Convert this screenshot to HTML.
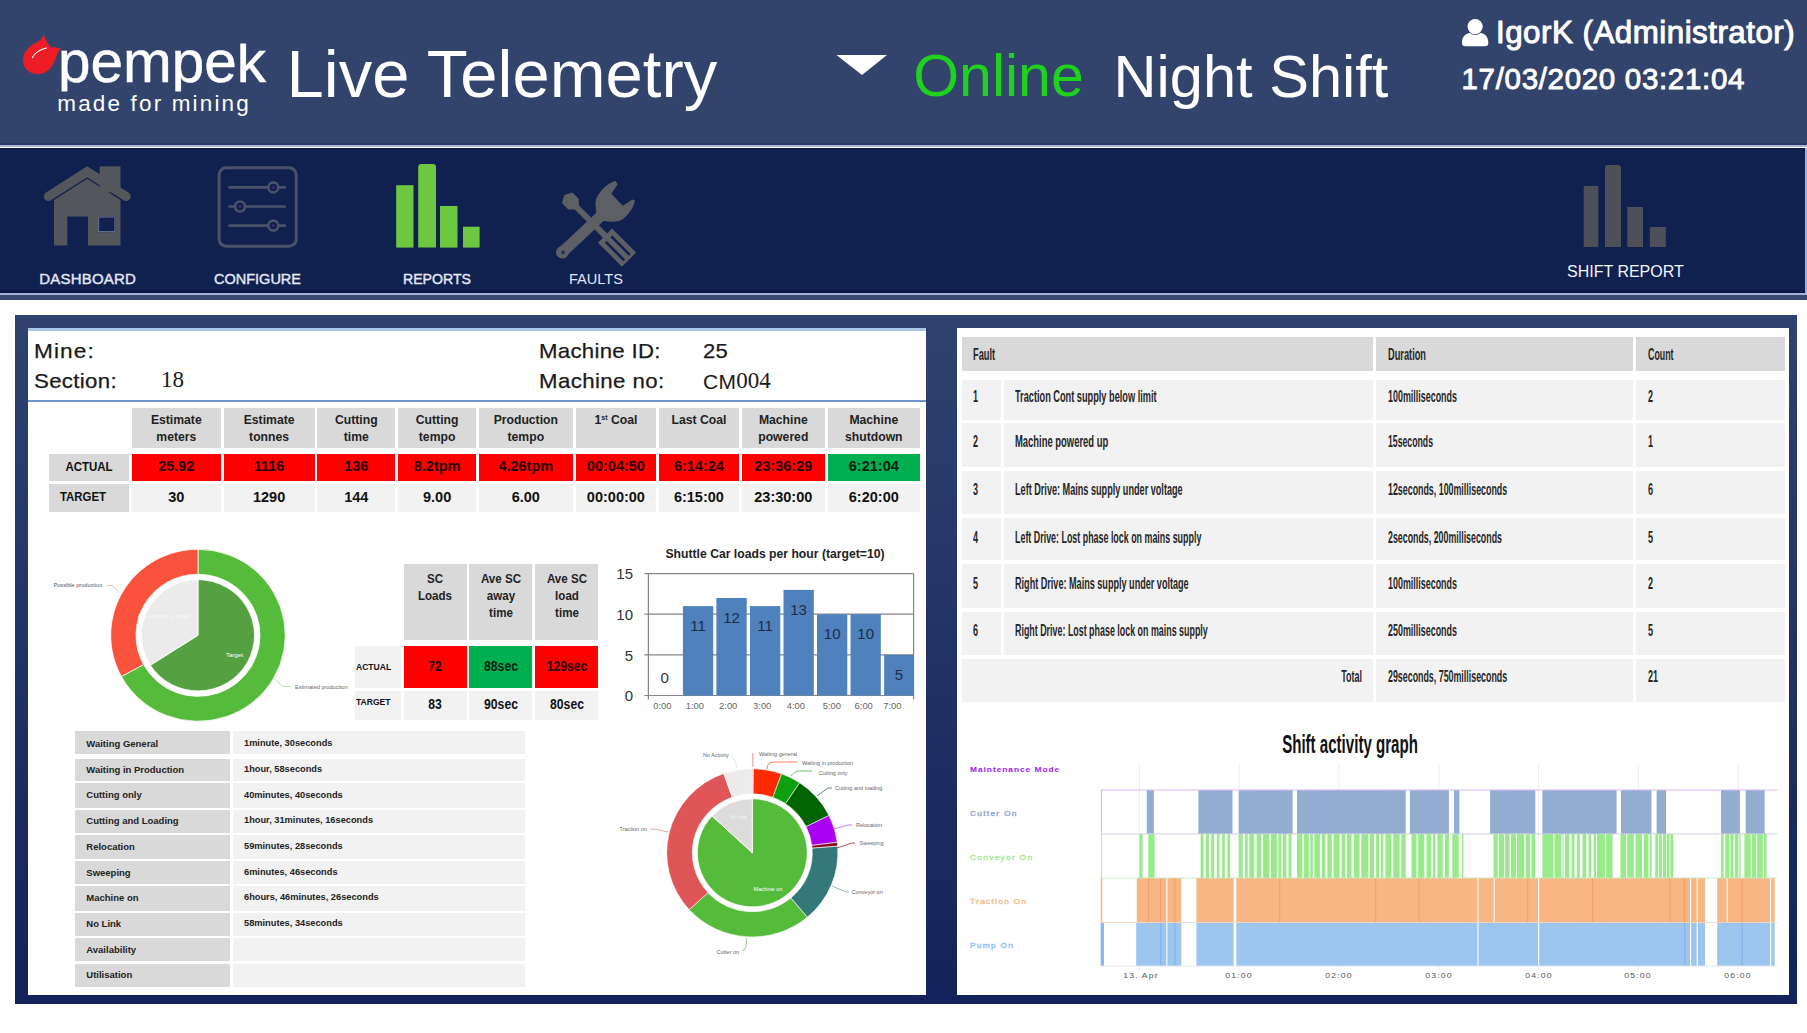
<!DOCTYPE html>
<html><head><meta charset="utf-8"><title>Live Telemetry</title>
<style>
html,body{margin:0;padding:0;}
body{width:1807px;height:1033px;position:relative;overflow:hidden;background:#fff;font-family:"Liberation Sans",sans-serif;}
.t{position:absolute;white-space:nowrap;line-height:1;}
svg{position:absolute;left:0;top:0;overflow:visible;}
</style></head><body>

<div style="position:absolute;left:0.0px;top:0.0px;width:1807.0px;height:145.0px;background:#32436c;"></div>
<div style="position:absolute;left:0.0px;top:143.0px;width:1807.0px;height:2.0px;background:#2c3b62;"></div>
<div style="position:absolute;left:0.0px;top:145.2px;width:1807.0px;height:2.0px;background:#a9b4d8;"></div>
<div style="position:absolute;left:0.0px;top:147.5px;width:1807.0px;height:145.5px;background:#10204f;"></div>
<div style="position:absolute;left:0.0px;top:147.5px;width:1807.0px;height:2.5px;background:linear-gradient(#0a1442,#10204f);"></div>
<div style="position:absolute;left:0.0px;top:290.0px;width:1807.0px;height:3.0px;background:linear-gradient(#10204f,#0a1442);"></div>
<div style="position:absolute;left:0.0px;top:293.0px;width:1807.0px;height:2.3px;background:#a3b1d6;"></div>
<div style="position:absolute;left:1805.0px;top:147.5px;width:2.0px;height:147.5px;background:#a3b1d6;"></div>
<div style="position:absolute;left:0.0px;top:295.3px;width:1807.0px;height:4.7px;background:#38486f;"></div>
<svg width="1807" height="1033" viewBox="0 0 1807 1033">
<path d="M43.5 32.7 C45 40 48 44 51 47.5 C54.5 47 58 47.8 60.6 48.6 C57 53 56 60 52 66 C48 72.5 40 75.5 33 73.5 C25 71 21.5 63 23.5 56 C25.5 49 32 44.5 38 41.5 C41 40 43 37.5 43.5 33.5 Z" fill="#ee1c25"/>
<path d="M32.5 57.5 C35 52.5 40 49.5 46.5 48" fill="none" stroke="#fff" stroke-width="1.2" stroke-linecap="round"/>
</svg>
<div class="t" style="left:57.5px;top:32.8px;font:normal 60px/1 'Liberation Sans', sans-serif;color:#fff;letter-spacing:0px;transform:scale(0.975,0.985);transform-origin:left top;clip-path:inset(10.6px -5px 0.5px -5px);-webkit-text-stroke:0.5px #fff;">pempek</div>
<div class="t" style="left:57.3px;top:93.0px;font:normal 22.5px/1 'Liberation Sans', sans-serif;color:#fff;letter-spacing:2.15px;transform:scale(1,1);transform-origin:left top;">made for mining</div>
<div class="t" style="left:286.5px;top:39.7px;font:normal 67px/1 'Liberation Sans', sans-serif;color:#fff;letter-spacing:0px;transform:scale(1,1);transform-origin:left top;">Live Telemetry</div>
<svg width="1807" height="1033"><path d="M836.5 55 L887 55 L862 75 Z" fill="#fff"/></svg>
<div class="t" style="left:913.2px;top:47.1px;font:normal 59px/1 'Liberation Sans', sans-serif;color:#1ed21e;letter-spacing:0px;transform:scale(1,1);transform-origin:left top;">Online</div>
<div class="t" style="left:1113.5px;top:46.6px;font:normal 59.6px/1 'Liberation Sans', sans-serif;color:#fff;letter-spacing:0px;transform:scale(1,1);transform-origin:left top;">Night Shift</div>
<svg width="1807" height="1033"><circle cx="1475.1" cy="26.6" r="7.6" fill="#fff"/><path d="M1462 43 C1462 36 1466 33.5 1470 33 C1473 35.5 1477.5 35.5 1480.5 33 C1484.5 33.5 1488.3 36 1488.3 43 Q1488.3 46.3 1485 46.3 H1465.3 Q1462 46.3 1462 43 Z" fill="#fff"/></svg>
<div class="t" style="left:1496.0px;top:17.3px;font:normal 31.3px/1 'Liberation Sans', sans-serif;color:#fff;letter-spacing:0.5px;transform:scale(1,1);transform-origin:left top;-webkit-text-stroke:1px #fff;">IgorK (Administrator)</div>
<div class="t" style="left:1461.5px;top:64.0px;font:normal 29.5px/1 'Liberation Sans', sans-serif;color:#fff;letter-spacing:0.68px;transform:scale(1,1);transform-origin:left top;-webkit-text-stroke:0.9px #fff;">17/03/2020 03:21:04</div>
<svg width="1807" height="1033">
<!-- home -->
<rect x="99.7" y="166.3" width="20.8" height="26" fill="#53575c"/>
<polyline points="48.5,196.4 87.2,171.8 126,196.4" fill="none" stroke="#53575c" stroke-width="9.3" stroke-linecap="round" stroke-linejoin="miter"/>
<path fill-rule="evenodd" fill="#53575c" d="M54 245.5 L54 199.9 L87.2 178.8 L120.5 199.9 L120.5 245.5 Z M67.3 245.5 L88 245.5 L88 216.4 L67.3 216.4 Z M98 216.4 L115.5 216.4 L115.5 232.2 L98 232.2 Z"/>
<rect x="98.6" y="217" width="16.3" height="14.6" fill="none" stroke="#5f6b82" stroke-width="1.2"/>
<!-- configure -->
<g stroke="#4b5169" fill="none">
<rect x="219.1" y="167.8" width="77.1" height="78.4" rx="7" stroke-width="3"/>
<path d="M228.5 187.4 H285.8 M228.5 206.5 H285.8 M228.5 225.6 H285.8" stroke-width="2.6"/>
<g fill="#10204f" stroke-width="2.6"><circle cx="273.3" cy="187.4" r="5"/><circle cx="240" cy="206.5" r="5"/><circle cx="273.3" cy="225.6" r="5"/></g>
</g>
<g fill="#3a2a66" stroke="none"><circle cx="273.3" cy="187.4" r="1.6"/><circle cx="240" cy="206.5" r="1.6"/><circle cx="273.3" cy="225.6" r="1.6"/></g>
<!-- reports -->
<g fill="#6ec741">
<rect x="396.2" y="185.2" width="17.3" height="62.4"/>
<path d="M418.2 247.6 V167.1 Q418.2 164.1 421.2 164.1 H433 Q436 164.1 436 167.1 V247.6 Z"/>
<rect x="440" y="206" width="17.5" height="41.6"/>
<rect x="463" y="226.7" width="16.6" height="20.9"/>
</g>
<!-- shift report -->
<g fill="#4d5058">
<rect x="1583.7" y="186" width="14.6" height="61"/>
<path d="M1605 247 V168 Q1605 165 1608 165 H1618 Q1621 165 1621 168 V247 Z"/>
<rect x="1627.3" y="207" width="15.7" height="40"/>
<rect x="1649.8" y="227" width="16" height="20"/>
</g>
<!-- faults: screwdriver -->
<g fill="#5c5f63" transform="translate(570.4 201) rotate(45)">
<polygon points="-8.5,0 -4.5,-7.5 4.5,-7.5 9,-3 9,3 4.5,7.5 -4.5,7.5"/>
<rect x="0" y="-3" width="50" height="6"/>
<rect x="48.9" y="-10" width="34" height="20"/>
<rect x="54" y="-5.2" width="26" height="2.6" fill="#10204f"/>
<rect x="54" y="2.6" width="26" height="2.6" fill="#10204f"/>
</g>
<!-- faults: wrench -->
<g fill="#5c5f63" transform="translate(562.3 252.3) rotate(-43.3)">
<circle cx="0" cy="0" r="6.3"/>
<rect x="0" y="-5.5" width="56" height="11"/>
<path d="M52 -5.5 C56 -11 60 -17.5 68 -17.5 C76 -19.5 83 -17.5 87.5 -15.7 L87 -11.6 L76 -9 L76 7.5 L87.3 9.6 L88.4 12.1 C83 16 77 17.5 69 17.5 C61 17.5 56 11 52 5.5 Z"/>
<circle cx="0.5" cy="0.5" r="1.8" fill="#16305a"/>
</g>
</svg>
<div class="t" style="left:39.3px;top:270.8px;font:normal 15px/1 'Liberation Sans', sans-serif;color:#e4e8f6;letter-spacing:0.2px;transform:scale(1,1);transform-origin:left top;-webkit-text-stroke:0.4px #e4e8f6;">DASHBOARD</div>
<div class="t" style="left:214.0px;top:272.0px;font:normal 14.5px/1 'Liberation Sans', sans-serif;color:#e4e8f6;letter-spacing:0px;transform:scale(1,1);transform-origin:left top;-webkit-text-stroke:0.4px #e4e8f6;">CONFIGURE</div>
<div class="t" style="left:403.2px;top:270.8px;font:normal 15px/1 'Liberation Sans', sans-serif;color:#e4e8f6;letter-spacing:0px;transform:scale(0.94,1);transform-origin:left top;-webkit-text-stroke:0.4px #e4e8f6;">REPORTS</div>
<div class="t" style="left:568.5px;top:270.8px;font:normal 15px/1 'Liberation Sans', sans-serif;color:#e4e8f6;letter-spacing:0px;transform:scale(0.97,1);transform-origin:left top;">FAULTS</div>
<div class="t" style="left:1567.0px;top:263.5px;font:normal 16px/1 'Liberation Sans', sans-serif;color:#f4f6fb;letter-spacing:0px;transform:scale(1,1);transform-origin:left top;">SHIFT REPORT</div>
<div style="position:absolute;left:15.0px;top:315.0px;width:1782.0px;height:689.0px;background:linear-gradient(#2f426f,#13225a);"></div>
<div style="position:absolute;left:28.0px;top:328.0px;width:898.0px;height:667.4px;background:#fff;"></div>
<div style="position:absolute;left:957.0px;top:328.0px;width:831.5px;height:667.4px;background:#fff;"></div>
<div style="position:absolute;left:28.0px;top:328.0px;width:898.0px;height:2.5px;background:#a9c6ea;"></div>
<div class="t" style="left:33.5px;top:339.6px;font:normal 21px/1 'Liberation Sans', sans-serif;color:#1a1a1a;letter-spacing:1.0px;transform:scale(1.08,1);transform-origin:left top;-webkit-text-stroke:0.25px #1a1a1a;">Mine:</div>
<div class="t" style="left:33.5px;top:369.6px;font:normal 21px/1 'Liberation Sans', sans-serif;color:#1a1a1a;letter-spacing:0.3px;transform:scale(1.06,1);transform-origin:left top;-webkit-text-stroke:0.25px #1a1a1a;">Section:</div>
<div class="t" style="left:161.0px;top:368.0px;font:normal 23px/1 'Liberation Serif', serif;color:#1a1a1a;letter-spacing:0px;transform:scale(1,1);transform-origin:left top;">18</div>
<div class="t" style="left:539.0px;top:339.6px;font:normal 21px/1 'Liberation Sans', sans-serif;color:#1a1a1a;letter-spacing:0.25px;transform:scale(1.06,1);transform-origin:left top;-webkit-text-stroke:0.25px #1a1a1a;">Machine ID:</div>
<div class="t" style="left:539.0px;top:369.6px;font:normal 21px/1 'Liberation Sans', sans-serif;color:#1a1a1a;letter-spacing:0.37px;transform:scale(1.06,1);transform-origin:left top;-webkit-text-stroke:0.25px #1a1a1a;">Machine no:</div>
<div class="t" style="left:703.0px;top:339.6px;font:normal 21px/1 'Liberation Sans', sans-serif;color:#1a1a1a;letter-spacing:0.3px;transform:scale(1.05,1);transform-origin:left top;-webkit-text-stroke:0.25px #1a1a1a;">25</div>
<div class="t" style="left:703.0px;top:369.6px;font:normal 21px/1 'Liberation Sans', sans-serif;color:#1a1a1a;letter-spacing:0.3px;transform:scale(1,1);transform-origin:left top;">CM<span style="font:23px/1 'Liberation Serif',serif;letter-spacing:0;position:relative;top:-0.5px">004</span></div>
<div style="position:absolute;left:28.0px;top:399.5px;width:898.0px;height:2.0px;background:#6f94cc;"></div>
<div style="position:absolute;left:48.6px;top:454.2px;width:80.4px;height:26.8px;background:#d9d9d9;"></div>
<div style="position:absolute;left:48.6px;top:483.6px;width:80.4px;height:28.4px;background:#d9d9d9;"></div>
<div class="t" style="left:88.8px;top:459.6px;font:bold 13.2px/1 'Liberation Sans', sans-serif;color:#111;letter-spacing:0px;transform:translateX(-50%) scale(0.87,1);transform-origin:center top;">ACTUAL</div>
<div class="t" style="left:83.3px;top:490.3px;font:bold 13.2px/1 'Liberation Sans', sans-serif;color:#111;letter-spacing:0px;transform:translateX(-50%) scale(0.865,1);transform-origin:center top;">TARGET</div>
<div style="position:absolute;left:132.0px;top:407.5px;width:88.7px;height:40.5px;background:#d9d9d9;"></div>
<div class="t" style="left:176.3px;top:414.3px;font:bold 12.2px/1 'Liberation Sans', sans-serif;color:#222;letter-spacing:0px;transform:translateX(-50%) scale(1,1);transform-origin:center top;">Estimate</div>
<div class="t" style="left:176.3px;top:431.3px;font:bold 12.2px/1 'Liberation Sans', sans-serif;color:#222;letter-spacing:0px;transform:translateX(-50%) scale(1,1);transform-origin:center top;">meters</div>
<div style="position:absolute;left:132.0px;top:454.2px;width:88.7px;height:26.8px;background:#ff0000;"></div>
<div style="position:absolute;left:132.0px;top:483.6px;width:88.7px;height:28.4px;background:#f2f2f2;"></div>
<div class="t" style="left:176.3px;top:459.3px;font:bold 14.5px/1 'Liberation Sans', sans-serif;color:#2a0000;letter-spacing:0px;transform:translateX(-50%) scale(1,1);transform-origin:center top;">25.92</div>
<div class="t" style="left:176.3px;top:490.0px;font:bold 14.5px/1 'Liberation Sans', sans-serif;color:#111;letter-spacing:0px;transform:translateX(-50%) scale(1,1);transform-origin:center top;">30</div>
<div style="position:absolute;left:223.6px;top:407.5px;width:91.0px;height:40.5px;background:#d9d9d9;"></div>
<div class="t" style="left:269.1px;top:414.3px;font:bold 12.2px/1 'Liberation Sans', sans-serif;color:#222;letter-spacing:0px;transform:translateX(-50%) scale(1,1);transform-origin:center top;">Estimate</div>
<div class="t" style="left:269.1px;top:431.3px;font:bold 12.2px/1 'Liberation Sans', sans-serif;color:#222;letter-spacing:0px;transform:translateX(-50%) scale(1,1);transform-origin:center top;">tonnes</div>
<div style="position:absolute;left:223.6px;top:454.2px;width:91.0px;height:26.8px;background:#ff0000;"></div>
<div style="position:absolute;left:223.6px;top:483.6px;width:91.0px;height:28.4px;background:#f2f2f2;"></div>
<div class="t" style="left:269.1px;top:459.3px;font:bold 14.5px/1 'Liberation Sans', sans-serif;color:#2a0000;letter-spacing:0px;transform:translateX(-50%) scale(1,1);transform-origin:center top;">1116</div>
<div class="t" style="left:269.1px;top:490.0px;font:bold 14.5px/1 'Liberation Sans', sans-serif;color:#111;letter-spacing:0px;transform:translateX(-50%) scale(1,1);transform-origin:center top;">1290</div>
<div style="position:absolute;left:317.4px;top:407.5px;width:77.8px;height:40.5px;background:#d9d9d9;"></div>
<div class="t" style="left:356.3px;top:414.3px;font:bold 12.2px/1 'Liberation Sans', sans-serif;color:#222;letter-spacing:0px;transform:translateX(-50%) scale(1,1);transform-origin:center top;">Cutting</div>
<div class="t" style="left:356.3px;top:431.3px;font:bold 12.2px/1 'Liberation Sans', sans-serif;color:#222;letter-spacing:0px;transform:translateX(-50%) scale(1,1);transform-origin:center top;">time</div>
<div style="position:absolute;left:317.4px;top:454.2px;width:77.8px;height:26.8px;background:#ff0000;"></div>
<div style="position:absolute;left:317.4px;top:483.6px;width:77.8px;height:28.4px;background:#f2f2f2;"></div>
<div class="t" style="left:356.3px;top:459.3px;font:bold 14.5px/1 'Liberation Sans', sans-serif;color:#2a0000;letter-spacing:0px;transform:translateX(-50%) scale(1,1);transform-origin:center top;">136</div>
<div class="t" style="left:356.3px;top:490.0px;font:bold 14.5px/1 'Liberation Sans', sans-serif;color:#111;letter-spacing:0px;transform:translateX(-50%) scale(1,1);transform-origin:center top;">144</div>
<div style="position:absolute;left:398.3px;top:407.5px;width:77.7px;height:40.5px;background:#d9d9d9;"></div>
<div class="t" style="left:437.1px;top:414.3px;font:bold 12.2px/1 'Liberation Sans', sans-serif;color:#222;letter-spacing:0px;transform:translateX(-50%) scale(1,1);transform-origin:center top;">Cutting</div>
<div class="t" style="left:437.1px;top:431.3px;font:bold 12.2px/1 'Liberation Sans', sans-serif;color:#222;letter-spacing:0px;transform:translateX(-50%) scale(1,1);transform-origin:center top;">tempo</div>
<div style="position:absolute;left:398.3px;top:454.2px;width:77.7px;height:26.8px;background:#ff0000;"></div>
<div style="position:absolute;left:398.3px;top:483.6px;width:77.7px;height:28.4px;background:#f2f2f2;"></div>
<div class="t" style="left:437.1px;top:459.3px;font:bold 14.5px/1 'Liberation Sans', sans-serif;color:#2a0000;letter-spacing:0px;transform:translateX(-50%) scale(1,1);transform-origin:center top;">8.2tpm</div>
<div class="t" style="left:437.1px;top:490.0px;font:bold 14.5px/1 'Liberation Sans', sans-serif;color:#111;letter-spacing:0px;transform:translateX(-50%) scale(1,1);transform-origin:center top;">9.00</div>
<div style="position:absolute;left:478.9px;top:407.5px;width:93.8px;height:40.5px;background:#d9d9d9;"></div>
<div class="t" style="left:525.8px;top:414.3px;font:bold 12.2px/1 'Liberation Sans', sans-serif;color:#222;letter-spacing:0px;transform:translateX(-50%) scale(1,1);transform-origin:center top;">Production</div>
<div class="t" style="left:525.8px;top:431.3px;font:bold 12.2px/1 'Liberation Sans', sans-serif;color:#222;letter-spacing:0px;transform:translateX(-50%) scale(1,1);transform-origin:center top;">tempo</div>
<div style="position:absolute;left:478.9px;top:454.2px;width:93.8px;height:26.8px;background:#ff0000;"></div>
<div style="position:absolute;left:478.9px;top:483.6px;width:93.8px;height:28.4px;background:#f2f2f2;"></div>
<div class="t" style="left:525.8px;top:459.3px;font:bold 14.5px/1 'Liberation Sans', sans-serif;color:#2a0000;letter-spacing:0px;transform:translateX(-50%) scale(1,1);transform-origin:center top;">4.26tpm</div>
<div class="t" style="left:525.8px;top:490.0px;font:bold 14.5px/1 'Liberation Sans', sans-serif;color:#111;letter-spacing:0px;transform:translateX(-50%) scale(1,1);transform-origin:center top;">6.00</div>
<div style="position:absolute;left:575.5px;top:407.5px;width:80.8px;height:40.5px;background:#d9d9d9;"></div>
<div class="t" style="left:615.9px;top:414.3px;font:bold 12.2px/1 'Liberation Sans', sans-serif;color:#222;letter-spacing:0px;transform:translateX(-50%) scale(1,1);transform-origin:center top;">1<span style="font-size:7px;vertical-align:4px">st</span> Coal</div>
<div style="position:absolute;left:575.5px;top:454.2px;width:80.8px;height:26.8px;background:#ff0000;"></div>
<div style="position:absolute;left:575.5px;top:483.6px;width:80.8px;height:28.4px;background:#f2f2f2;"></div>
<div class="t" style="left:615.9px;top:459.3px;font:bold 14.5px/1 'Liberation Sans', sans-serif;color:#2a0000;letter-spacing:0px;transform:translateX(-50%) scale(1,1);transform-origin:center top;">00:04:50</div>
<div class="t" style="left:615.9px;top:490.0px;font:bold 14.5px/1 'Liberation Sans', sans-serif;color:#111;letter-spacing:0px;transform:translateX(-50%) scale(1,1);transform-origin:center top;">00:00:00</div>
<div style="position:absolute;left:659.1px;top:407.5px;width:79.5px;height:40.5px;background:#d9d9d9;"></div>
<div class="t" style="left:698.9px;top:414.3px;font:bold 12.2px/1 'Liberation Sans', sans-serif;color:#222;letter-spacing:0px;transform:translateX(-50%) scale(1,1);transform-origin:center top;">Last Coal</div>
<div style="position:absolute;left:659.1px;top:454.2px;width:79.5px;height:26.8px;background:#ff0000;"></div>
<div style="position:absolute;left:659.1px;top:483.6px;width:79.5px;height:28.4px;background:#f2f2f2;"></div>
<div class="t" style="left:698.9px;top:459.3px;font:bold 14.5px/1 'Liberation Sans', sans-serif;color:#2a0000;letter-spacing:0px;transform:translateX(-50%) scale(1,1);transform-origin:center top;">6:14:24</div>
<div class="t" style="left:698.9px;top:490.0px;font:bold 14.5px/1 'Liberation Sans', sans-serif;color:#111;letter-spacing:0px;transform:translateX(-50%) scale(1,1);transform-origin:center top;">6:15:00</div>
<div style="position:absolute;left:741.8px;top:407.5px;width:83.0px;height:40.5px;background:#d9d9d9;"></div>
<div class="t" style="left:783.3px;top:414.3px;font:bold 12.2px/1 'Liberation Sans', sans-serif;color:#222;letter-spacing:0px;transform:translateX(-50%) scale(1,1);transform-origin:center top;">Machine</div>
<div class="t" style="left:783.3px;top:431.3px;font:bold 12.2px/1 'Liberation Sans', sans-serif;color:#222;letter-spacing:0px;transform:translateX(-50%) scale(1,1);transform-origin:center top;">powered</div>
<div style="position:absolute;left:741.8px;top:454.2px;width:83.0px;height:26.8px;background:#ff0000;"></div>
<div style="position:absolute;left:741.8px;top:483.6px;width:83.0px;height:28.4px;background:#f2f2f2;"></div>
<div class="t" style="left:783.3px;top:459.3px;font:bold 14.5px/1 'Liberation Sans', sans-serif;color:#2a0000;letter-spacing:0px;transform:translateX(-50%) scale(1,1);transform-origin:center top;">23:36:29</div>
<div class="t" style="left:783.3px;top:490.0px;font:bold 14.5px/1 'Liberation Sans', sans-serif;color:#111;letter-spacing:0px;transform:translateX(-50%) scale(1,1);transform-origin:center top;">23:30:00</div>
<div style="position:absolute;left:827.5px;top:407.5px;width:92.5px;height:40.5px;background:#d9d9d9;"></div>
<div class="t" style="left:873.8px;top:414.3px;font:bold 12.2px/1 'Liberation Sans', sans-serif;color:#222;letter-spacing:0px;transform:translateX(-50%) scale(1,1);transform-origin:center top;">Machine</div>
<div class="t" style="left:873.8px;top:431.3px;font:bold 12.2px/1 'Liberation Sans', sans-serif;color:#222;letter-spacing:0px;transform:translateX(-50%) scale(1,1);transform-origin:center top;">shutdown</div>
<div style="position:absolute;left:827.5px;top:454.2px;width:92.5px;height:26.8px;background:#00b050;"></div>
<div style="position:absolute;left:827.5px;top:483.6px;width:92.5px;height:28.4px;background:#f2f2f2;"></div>
<div class="t" style="left:873.8px;top:459.3px;font:bold 14.5px/1 'Liberation Sans', sans-serif;color:#00200f;letter-spacing:0px;transform:translateX(-50%) scale(1,1);transform-origin:center top;">6:21:04</div>
<div class="t" style="left:873.8px;top:490.0px;font:bold 14.5px/1 'Liberation Sans', sans-serif;color:#111;letter-spacing:0px;transform:translateX(-50%) scale(1,1);transform-origin:center top;">6:20:00</div>
<svg width="1807" height="1033"><g transform="translate(0 635) scale(1 0.985) translate(0 -635)"><path d="M198.00 548.00 A87.3 87.3 0 1 1 121.35 677.09 L143.57 664.98 A62 62 0 1 0 198.00 573.30 Z" fill="#55bb3b" stroke="#fff" stroke-width="0.8"/><path d="M121.35 677.09 A87.3 87.3 0 0 1 198.00 548.00 L198.00 573.30 A62 62 0 0 0 143.57 664.98 Z" fill="#f9533d" stroke="#fff" stroke-width="0.8"/><path d="M198 635.3 L198.00 578.80 A56.5 56.5 0 1 1 150.35 665.66 Z" fill="#55a040" stroke="#fff" stroke-width="0.8"/><path d="M198 635.3 L150.35 665.66 A56.5 56.5 0 0 1 198.00 578.80 Z" fill="#ebebeb" stroke="#fff" stroke-width="0.8"/></g><path d="M107 585.5 H112 L119 592" fill="none" stroke="#f9a090" stroke-width="0.7"/><path d="M274 679 L283 686.5 H291" fill="none" stroke="#9fd48c" stroke-width="0.7"/></svg>
<div class="t" style="left:53.5px;top:583.2px;font:normal 5.6px/1 'Liberation Sans', sans-serif;color:#555;letter-spacing:0px;transform:scale(1,1);transform-origin:left top;">Possible production</div>
<div class="t" style="left:295.0px;top:684.7px;font:normal 5.6px/1 'Liberation Sans', sans-serif;color:#666;letter-spacing:0px;transform:scale(1,1);transform-origin:left top;">Estimated production</div>
<div class="t" style="left:226.0px;top:652.0px;font:normal 6.2px/1 'Liberation Sans', sans-serif;color:#fff;letter-spacing:0px;transform:scale(1,1);transform-origin:left top;">Target</div>
<div class="t" style="left:138.0px;top:614.0px;font:normal 5.6px/1 'Liberation Sans', sans-serif;color:#f8f8f8;letter-spacing:0px;transform:scale(1,1);transform-origin:left top;">Comparison to target</div>
<div style="position:absolute;left:355.4px;top:646.2px;width:45.6px;height:42.2px;background:#f2f2f2;"></div>
<div style="position:absolute;left:355.4px;top:691.0px;width:45.6px;height:29.0px;background:#f2f2f2;"></div>
<div class="t" style="left:355.5px;top:662.5px;font:bold 9px/1 'Liberation Sans', sans-serif;color:#111;letter-spacing:0px;transform:scale(0.95,1);transform-origin:left top;">ACTUAL</div>
<div class="t" style="left:355.5px;top:697.5px;font:bold 9px/1 'Liberation Sans', sans-serif;color:#111;letter-spacing:0px;transform:scale(0.95,1);transform-origin:left top;">TARGET</div>
<div style="position:absolute;left:403.5px;top:564.2px;width:63.1px;height:76.0px;background:#d9d9d9;"></div>
<div class="t" style="left:435.1px;top:572.6px;font:bold 12.2px/1 'Liberation Sans', sans-serif;color:#222;letter-spacing:0px;transform:translateX(-50%) scale(0.95,1);transform-origin:center top;">SC</div>
<div class="t" style="left:435.1px;top:589.6px;font:bold 12.2px/1 'Liberation Sans', sans-serif;color:#222;letter-spacing:0px;transform:translateX(-50%) scale(0.95,1);transform-origin:center top;">Loads</div>
<div style="position:absolute;left:403.5px;top:646.2px;width:63.1px;height:42.2px;background:#ff0000;"></div>
<div style="position:absolute;left:403.5px;top:691.0px;width:63.1px;height:29.0px;background:#f2f2f2;"></div>
<div class="t" style="left:435.1px;top:659.0px;font:bold 14px/1 'Liberation Sans', sans-serif;color:#2a0000;letter-spacing:0px;transform:translateX(-50%) scale(0.87,1);transform-origin:center top;">72</div>
<div class="t" style="left:435.1px;top:696.5px;font:bold 14px/1 'Liberation Sans', sans-serif;color:#111;letter-spacing:0px;transform:translateX(-50%) scale(0.87,1);transform-origin:center top;">83</div>
<div style="position:absolute;left:469.3px;top:564.2px;width:63.0px;height:76.0px;background:#d9d9d9;"></div>
<div class="t" style="left:500.8px;top:572.6px;font:bold 12.2px/1 'Liberation Sans', sans-serif;color:#222;letter-spacing:0px;transform:translateX(-50%) scale(0.95,1);transform-origin:center top;">Ave SC</div>
<div class="t" style="left:500.8px;top:589.6px;font:bold 12.2px/1 'Liberation Sans', sans-serif;color:#222;letter-spacing:0px;transform:translateX(-50%) scale(0.95,1);transform-origin:center top;">away</div>
<div class="t" style="left:500.8px;top:606.6px;font:bold 12.2px/1 'Liberation Sans', sans-serif;color:#222;letter-spacing:0px;transform:translateX(-50%) scale(0.95,1);transform-origin:center top;">time</div>
<div style="position:absolute;left:469.3px;top:646.2px;width:63.0px;height:42.2px;background:#00b050;"></div>
<div style="position:absolute;left:469.3px;top:691.0px;width:63.0px;height:29.0px;background:#f2f2f2;"></div>
<div class="t" style="left:500.8px;top:659.0px;font:bold 14px/1 'Liberation Sans', sans-serif;color:#00200f;letter-spacing:0px;transform:translateX(-50%) scale(0.87,1);transform-origin:center top;">88sec</div>
<div class="t" style="left:500.8px;top:696.5px;font:bold 14px/1 'Liberation Sans', sans-serif;color:#111;letter-spacing:0px;transform:translateX(-50%) scale(0.87,1);transform-origin:center top;">90sec</div>
<div style="position:absolute;left:535.0px;top:564.2px;width:63.4px;height:76.0px;background:#d9d9d9;"></div>
<div class="t" style="left:566.7px;top:572.6px;font:bold 12.2px/1 'Liberation Sans', sans-serif;color:#222;letter-spacing:0px;transform:translateX(-50%) scale(0.95,1);transform-origin:center top;">Ave SC</div>
<div class="t" style="left:566.7px;top:589.6px;font:bold 12.2px/1 'Liberation Sans', sans-serif;color:#222;letter-spacing:0px;transform:translateX(-50%) scale(0.95,1);transform-origin:center top;">load</div>
<div class="t" style="left:566.7px;top:606.6px;font:bold 12.2px/1 'Liberation Sans', sans-serif;color:#222;letter-spacing:0px;transform:translateX(-50%) scale(0.95,1);transform-origin:center top;">time</div>
<div style="position:absolute;left:535.0px;top:646.2px;width:63.4px;height:42.2px;background:#ff0000;"></div>
<div style="position:absolute;left:535.0px;top:691.0px;width:63.4px;height:29.0px;background:#f2f2f2;"></div>
<div class="t" style="left:566.7px;top:659.0px;font:bold 14px/1 'Liberation Sans', sans-serif;color:#2a0000;letter-spacing:0px;transform:translateX(-50%) scale(0.87,1);transform-origin:center top;">129sec</div>
<div class="t" style="left:566.7px;top:696.5px;font:bold 14px/1 'Liberation Sans', sans-serif;color:#111;letter-spacing:0px;transform:translateX(-50%) scale(0.87,1);transform-origin:center top;">80sec</div>
<div class="t" style="left:775.0px;top:548.0px;font:bold 12.2px/1 'Liberation Sans', sans-serif;color:#222;letter-spacing:0px;transform:translateX(-50%) scale(1,1);transform-origin:center top;">Shuttle Car loads per hour (target=10)</div>
<svg width="1807" height="1033"><path d="M644.4 573.6 H913.6" stroke="#868686" stroke-width="1.2"/><path d="M644.4 614.2 H913.6" stroke="#868686" stroke-width="1.2"/><path d="M644.4 654.9 H913.6" stroke="#868686" stroke-width="1.2"/><path d="M644.4 695.5 H913.6" stroke="#868686" stroke-width="1.2"/><path d="M648.4 573.6 V699.5 M913.6 573.6 V699.5" stroke="#868686" stroke-width="1.2" fill="none"/><rect x="682.9" y="606.1" width="30.3" height="89.4" fill="#4f81bd"/><rect x="716.4" y="598.0" width="30.3" height="97.5" fill="#4f81bd"/><rect x="750.0" y="606.1" width="30.3" height="89.4" fill="#4f81bd"/><rect x="783.5" y="589.9" width="30.3" height="105.6" fill="#4f81bd"/><rect x="817.0" y="614.2" width="30.3" height="81.3" fill="#4f81bd"/><rect x="850.5" y="614.2" width="30.3" height="81.3" fill="#4f81bd"/><rect x="884.1" y="654.9" width="29.5" height="40.6" fill="#4f81bd"/></svg>
<div class="t" style="left:633.0px;top:566.2px;font:normal 15px/1 'Liberation Sans', sans-serif;color:#333;letter-spacing:0px;transform:translateX(-100%) scale(1,1);transform-origin:right top;">15</div>
<div class="t" style="left:633.0px;top:606.8px;font:normal 15px/1 'Liberation Sans', sans-serif;color:#333;letter-spacing:0px;transform:translateX(-100%) scale(1,1);transform-origin:right top;">10</div>
<div class="t" style="left:633.0px;top:647.5px;font:normal 15px/1 'Liberation Sans', sans-serif;color:#333;letter-spacing:0px;transform:translateX(-100%) scale(1,1);transform-origin:right top;">5</div>
<div class="t" style="left:633.0px;top:688.1px;font:normal 15px/1 'Liberation Sans', sans-serif;color:#333;letter-spacing:0px;transform:translateX(-100%) scale(1,1);transform-origin:right top;">0</div>
<div class="t" style="left:664.7px;top:670.3px;font:normal 15px/1 'Liberation Sans', sans-serif;color:#333;letter-spacing:0px;transform:translateX(-50%) scale(1,1);transform-origin:center top;">0</div>
<div class="t" style="left:662.3px;top:701.2px;font:normal 9.4px/1 'Liberation Sans', sans-serif;color:#666;letter-spacing:0px;transform:translateX(-50%) scale(1,1);transform-origin:center top;">0:00</div>
<div class="t" style="left:698.0px;top:617.7px;font:normal 15px/1 'Liberation Sans', sans-serif;color:#1c2c44;letter-spacing:0px;transform:translateX(-50%) scale(1,1);transform-origin:center top;">11</div>
<div class="t" style="left:694.9px;top:701.2px;font:normal 9.4px/1 'Liberation Sans', sans-serif;color:#666;letter-spacing:0px;transform:translateX(-50%) scale(1,1);transform-origin:center top;">1:00</div>
<div class="t" style="left:731.6px;top:609.6px;font:normal 15px/1 'Liberation Sans', sans-serif;color:#1c2c44;letter-spacing:0px;transform:translateX(-50%) scale(1,1);transform-origin:center top;">12</div>
<div class="t" style="left:728.2px;top:701.2px;font:normal 9.4px/1 'Liberation Sans', sans-serif;color:#666;letter-spacing:0px;transform:translateX(-50%) scale(1,1);transform-origin:center top;">2:00</div>
<div class="t" style="left:765.1px;top:617.7px;font:normal 15px/1 'Liberation Sans', sans-serif;color:#1c2c44;letter-spacing:0px;transform:translateX(-50%) scale(1,1);transform-origin:center top;">11</div>
<div class="t" style="left:762.2px;top:701.2px;font:normal 9.4px/1 'Liberation Sans', sans-serif;color:#666;letter-spacing:0px;transform:translateX(-50%) scale(1,1);transform-origin:center top;">3:00</div>
<div class="t" style="left:798.6px;top:601.5px;font:normal 15px/1 'Liberation Sans', sans-serif;color:#1c2c44;letter-spacing:0px;transform:translateX(-50%) scale(1,1);transform-origin:center top;">13</div>
<div class="t" style="left:795.9px;top:701.2px;font:normal 9.4px/1 'Liberation Sans', sans-serif;color:#666;letter-spacing:0px;transform:translateX(-50%) scale(1,1);transform-origin:center top;">4:00</div>
<div class="t" style="left:832.2px;top:625.8px;font:normal 15px/1 'Liberation Sans', sans-serif;color:#1c2c44;letter-spacing:0px;transform:translateX(-50%) scale(1,1);transform-origin:center top;">10</div>
<div class="t" style="left:831.8px;top:701.2px;font:normal 9.4px/1 'Liberation Sans', sans-serif;color:#666;letter-spacing:0px;transform:translateX(-50%) scale(1,1);transform-origin:center top;">5:00</div>
<div class="t" style="left:865.7px;top:625.8px;font:normal 15px/1 'Liberation Sans', sans-serif;color:#1c2c44;letter-spacing:0px;transform:translateX(-50%) scale(1,1);transform-origin:center top;">10</div>
<div class="t" style="left:863.7px;top:701.2px;font:normal 9.4px/1 'Liberation Sans', sans-serif;color:#666;letter-spacing:0px;transform:translateX(-50%) scale(1,1);transform-origin:center top;">6:00</div>
<div class="t" style="left:898.8px;top:666.5px;font:normal 15px/1 'Liberation Sans', sans-serif;color:#1c2c44;letter-spacing:0px;transform:translateX(-50%) scale(1,1);transform-origin:center top;">5</div>
<div class="t" style="left:892.4px;top:701.2px;font:normal 9.4px/1 'Liberation Sans', sans-serif;color:#666;letter-spacing:0px;transform:translateX(-50%) scale(1,1);transform-origin:center top;">7:00</div>
<div style="position:absolute;left:74.7px;top:731.4px;width:155.4px;height:23.0px;background:#d9d9d9;"></div>
<div style="position:absolute;left:232.8px;top:731.4px;width:292.2px;height:23.0px;background:#f2f2f2;"></div>
<div class="t" style="left:86.3px;top:739.0px;font:bold 9.5px/1 'Liberation Sans', sans-serif;color:#222;letter-spacing:0px;transform:scale(1,1);transform-origin:left top;">Waiting General</div>
<div class="t" style="left:244.0px;top:739.2px;font:bold 9.25px/1 'Liberation Sans', sans-serif;color:#222;letter-spacing:0px;transform:scale(1,1);transform-origin:left top;">1minute, 30seconds</div>
<div style="position:absolute;left:74.7px;top:759.4px;width:155.4px;height:21.3px;background:#d9d9d9;"></div>
<div style="position:absolute;left:232.8px;top:759.4px;width:292.2px;height:21.3px;background:#f2f2f2;"></div>
<div class="t" style="left:86.3px;top:764.7px;font:bold 9.5px/1 'Liberation Sans', sans-serif;color:#222;letter-spacing:0px;transform:scale(1,1);transform-origin:left top;">Waiting in Production</div>
<div class="t" style="left:244.0px;top:764.9px;font:bold 9.25px/1 'Liberation Sans', sans-serif;color:#222;letter-spacing:0px;transform:scale(1,1);transform-origin:left top;">1hour, 58seconds</div>
<div style="position:absolute;left:74.7px;top:782.8px;width:155.4px;height:24.8px;background:#d9d9d9;"></div>
<div style="position:absolute;left:232.8px;top:782.8px;width:292.2px;height:24.8px;background:#f2f2f2;"></div>
<div class="t" style="left:86.3px;top:790.4px;font:bold 9.5px/1 'Liberation Sans', sans-serif;color:#222;letter-spacing:0px;transform:scale(1,1);transform-origin:left top;">Cutting only</div>
<div class="t" style="left:244.0px;top:790.6px;font:bold 9.25px/1 'Liberation Sans', sans-serif;color:#222;letter-spacing:0px;transform:scale(1,1);transform-origin:left top;">40minutes, 40seconds</div>
<div style="position:absolute;left:74.7px;top:809.7px;width:155.4px;height:23.3px;background:#d9d9d9;"></div>
<div style="position:absolute;left:232.8px;top:809.7px;width:292.2px;height:23.3px;background:#f2f2f2;"></div>
<div class="t" style="left:86.3px;top:816.1px;font:bold 9.5px/1 'Liberation Sans', sans-serif;color:#222;letter-spacing:0px;transform:scale(1,1);transform-origin:left top;">Cutting and Loading</div>
<div class="t" style="left:244.0px;top:816.3px;font:bold 9.25px/1 'Liberation Sans', sans-serif;color:#222;letter-spacing:0px;transform:scale(1,1);transform-origin:left top;">1hour, 31minutes, 16seconds</div>
<div style="position:absolute;left:74.7px;top:835.0px;width:155.4px;height:24.0px;background:#d9d9d9;"></div>
<div style="position:absolute;left:232.8px;top:835.0px;width:292.2px;height:24.0px;background:#f2f2f2;"></div>
<div class="t" style="left:86.3px;top:841.8px;font:bold 9.5px/1 'Liberation Sans', sans-serif;color:#222;letter-spacing:0px;transform:scale(1,1);transform-origin:left top;">Relocation</div>
<div class="t" style="left:244.0px;top:842.0px;font:bold 9.25px/1 'Liberation Sans', sans-serif;color:#222;letter-spacing:0px;transform:scale(1,1);transform-origin:left top;">59minutes, 28seconds</div>
<div style="position:absolute;left:74.7px;top:861.4px;width:155.4px;height:22.4px;background:#d9d9d9;"></div>
<div style="position:absolute;left:232.8px;top:861.4px;width:292.2px;height:22.4px;background:#f2f2f2;"></div>
<div class="t" style="left:86.3px;top:867.5px;font:bold 9.5px/1 'Liberation Sans', sans-serif;color:#222;letter-spacing:0px;transform:scale(1,1);transform-origin:left top;">Sweeping</div>
<div class="t" style="left:244.0px;top:867.7px;font:bold 9.25px/1 'Liberation Sans', sans-serif;color:#222;letter-spacing:0px;transform:scale(1,1);transform-origin:left top;">6minutes, 46seconds</div>
<div style="position:absolute;left:74.7px;top:885.9px;width:155.4px;height:24.8px;background:#d9d9d9;"></div>
<div style="position:absolute;left:232.8px;top:885.9px;width:292.2px;height:24.8px;background:#f2f2f2;"></div>
<div class="t" style="left:86.3px;top:893.2px;font:bold 9.5px/1 'Liberation Sans', sans-serif;color:#222;letter-spacing:0px;transform:scale(1,1);transform-origin:left top;">Machine on</div>
<div class="t" style="left:244.0px;top:893.4px;font:bold 9.25px/1 'Liberation Sans', sans-serif;color:#222;letter-spacing:0px;transform:scale(1,1);transform-origin:left top;">6hours, 46minutes, 26seconds</div>
<div style="position:absolute;left:74.7px;top:912.8px;width:155.4px;height:23.2px;background:#d9d9d9;"></div>
<div style="position:absolute;left:232.8px;top:912.8px;width:292.2px;height:23.2px;background:#f2f2f2;"></div>
<div class="t" style="left:86.3px;top:918.9px;font:bold 9.5px/1 'Liberation Sans', sans-serif;color:#222;letter-spacing:0px;transform:scale(1,1);transform-origin:left top;">No Link</div>
<div class="t" style="left:244.0px;top:919.1px;font:bold 9.25px/1 'Liberation Sans', sans-serif;color:#222;letter-spacing:0px;transform:scale(1,1);transform-origin:left top;">58minutes, 34seconds</div>
<div style="position:absolute;left:74.7px;top:938.2px;width:155.4px;height:23.3px;background:#d9d9d9;"></div>
<div style="position:absolute;left:232.8px;top:938.2px;width:292.2px;height:23.3px;background:#f2f2f2;"></div>
<div class="t" style="left:86.3px;top:944.6px;font:bold 9.5px/1 'Liberation Sans', sans-serif;color:#222;letter-spacing:0px;transform:scale(1,1);transform-origin:left top;">Availability</div>
<div style="position:absolute;left:74.7px;top:963.6px;width:155.4px;height:23.0px;background:#d9d9d9;"></div>
<div style="position:absolute;left:232.8px;top:963.6px;width:292.2px;height:23.0px;background:#f2f2f2;"></div>
<div class="t" style="left:86.3px;top:970.3px;font:bold 9.5px/1 'Liberation Sans', sans-serif;color:#222;letter-spacing:0px;transform:scale(1,1);transform-origin:left top;">Utilisation</div>
<svg width="1807" height="1033"><g transform="translate(0 852.8) scale(1 0.983) translate(0 -852.8)"><path d="M752.30 767.20 A85.6 85.6 0 0 1 753.50 767.21 L753.14 792.81 A60 60 0 0 0 752.30 792.80 Z" fill="#e8000c" stroke="#fff" stroke-width="0.6"/><path d="M753.50 767.21 A85.6 85.6 0 0 1 781.58 772.36 L772.82 796.42 A60 60 0 0 0 753.14 792.81 Z" fill="#ff2a00" stroke="#fff" stroke-width="0.6"/><path d="M781.58 772.36 A85.6 85.6 0 0 1 799.67 781.50 L785.50 802.82 A60 60 0 0 0 772.82 796.42 Z" fill="#0ea00e" stroke="#fff" stroke-width="0.6"/><path d="M799.67 781.50 A85.6 85.6 0 0 1 829.04 814.87 L806.09 826.22 A60 60 0 0 0 785.50 802.82 Z" fill="#006400" stroke="#fff" stroke-width="0.6"/><path d="M829.04 814.87 A85.6 85.6 0 0 1 837.23 842.07 L811.83 845.28 A60 60 0 0 0 806.09 826.22 Z" fill="#a800f0" stroke="#fff" stroke-width="0.6"/><path d="M837.23 842.07 A85.6 85.6 0 0 1 837.64 846.08 L812.12 848.09 A60 60 0 0 0 811.83 845.28 Z" fill="#8b0a1a" stroke="#fff" stroke-width="0.6"/><path d="M837.64 846.08 A85.6 85.6 0 0 1 807.32 918.37 L790.87 898.76 A60 60 0 0 0 812.12 848.09 Z" fill="#35787a" stroke="#fff" stroke-width="0.6"/><path d="M807.32 918.37 A85.6 85.6 0 0 1 689.19 910.63 L708.06 893.34 A60 60 0 0 0 790.87 898.76 Z" fill="#55bb3b" stroke="#fff" stroke-width="0.6"/><path d="M689.19 910.63 A85.6 85.6 0 0 1 723.73 772.11 L732.27 796.24 A60 60 0 0 0 708.06 893.34 Z" fill="#e05558" stroke="#fff" stroke-width="0.6"/><path d="M723.73 772.11 A85.6 85.6 0 0 1 752.30 767.20 L752.30 792.80 A60 60 0 0 0 732.27 796.24 Z" fill="#ececec" stroke="#fff" stroke-width="0.6"/><path d="M752.3 852.8 L752.30 797.80 A55 55 0 1 1 712.08 815.29 Z" fill="#55bb3b" stroke="#fff" stroke-width="0.8"/><path d="M752.3 852.8 L712.08 815.29 A55 55 0 0 1 752.30 797.80 Z" fill="#dcdcdc" stroke="#fff" stroke-width="0.8"/></g><path d="M752.8 767 V753" fill="none" stroke="#f06060" stroke-width="0.7"/><path d="M767 769 Q767 762 774 762 H797" fill="none" stroke="#ff4020" stroke-width="0.7"/><path d="M791 776 Q794 771 800 771 H812" fill="none" stroke="#30a030" stroke-width="0.7"/><path d="M817 796 L828 788 H832" fill="none" stroke="#306030" stroke-width="0.7"/><path d="M834 829 L848 825 H852" fill="none" stroke="#b040f0" stroke-width="0.7"/><path d="M837 848 L852 843 H855" fill="none" stroke="#8b0a1a" stroke-width="0.7"/><path d="M832 886 L846 892 H849" fill="none" stroke="#6090a0" stroke-width="0.7"/><path d="M746.5 938.5 Q747 950 742 951" fill="none" stroke="#60b050" stroke-width="0.7"/><path d="M668 832 L654 829 H650" fill="none" stroke="#e08080" stroke-width="0.7"/><path d="M737 768 Q735 758 731 756" fill="none" stroke="#dddddd" stroke-width="0.7"/></svg>
<div class="t" style="left:703.0px;top:752.8px;font:normal 5.5px/1 'Liberation Sans', sans-serif;color:#666;letter-spacing:0px;transform:scale(1,1);transform-origin:left top;">No Activity</div>
<div class="t" style="left:759.0px;top:751.5px;font:normal 5.5px/1 'Liberation Sans', sans-serif;color:#666;letter-spacing:0px;transform:scale(1,1);transform-origin:left top;">Waiting general</div>
<div class="t" style="left:802.0px;top:761.3px;font:normal 5.5px/1 'Liberation Sans', sans-serif;color:#666;letter-spacing:0px;transform:scale(1,1);transform-origin:left top;">Waiting in production</div>
<div class="t" style="left:818.5px;top:771.3px;font:normal 5.5px/1 'Liberation Sans', sans-serif;color:#666;letter-spacing:0px;transform:scale(1,1);transform-origin:left top;">Cutting only</div>
<div class="t" style="left:835.0px;top:785.5px;font:normal 5.5px/1 'Liberation Sans', sans-serif;color:#666;letter-spacing:0px;transform:scale(1,1);transform-origin:left top;">Cutting and loading</div>
<div class="t" style="left:856.0px;top:822.5px;font:normal 5.5px/1 'Liberation Sans', sans-serif;color:#666;letter-spacing:0px;transform:scale(1,1);transform-origin:left top;">Relocation</div>
<div class="t" style="left:859.5px;top:841.0px;font:normal 5.5px/1 'Liberation Sans', sans-serif;color:#666;letter-spacing:0px;transform:scale(1,1);transform-origin:left top;">Sweeping</div>
<div class="t" style="left:851.5px;top:889.5px;font:normal 5.5px/1 'Liberation Sans', sans-serif;color:#666;letter-spacing:0px;transform:scale(1,1);transform-origin:left top;">Conveyor on</div>
<div class="t" style="left:716.5px;top:949.5px;font:normal 5.5px/1 'Liberation Sans', sans-serif;color:#666;letter-spacing:0px;transform:scale(1,1);transform-origin:left top;">Cutter on</div>
<div class="t" style="left:619.5px;top:826.8px;font:normal 5.5px/1 'Liberation Sans', sans-serif;color:#666;letter-spacing:0px;transform:scale(1,1);transform-origin:left top;">Traction on</div>
<div class="t" style="left:753.5px;top:886.5px;font:normal 5.6px/1 'Liberation Sans', sans-serif;color:#fff;letter-spacing:0px;transform:scale(1,1);transform-origin:left top;">Machine on</div>
<div class="t" style="left:730.0px;top:815.0px;font:normal 5.6px/1 'Liberation Sans', sans-serif;color:#f4f4f4;letter-spacing:0px;transform:scale(1,1);transform-origin:left top;">No link</div>
<div style="position:absolute;left:961.8px;top:337.0px;width:411.6px;height:33.5px;background:#d9d9d9;"></div>
<div style="position:absolute;left:1376.3px;top:337.0px;width:257.2px;height:33.5px;background:#d9d9d9;"></div>
<div style="position:absolute;left:1636.4px;top:337.0px;width:148.8px;height:33.5px;background:#d9d9d9;"></div>
<div class="t" style="left:973.0px;top:347.2px;font:bold 15.6px/1 'Liberation Sans', sans-serif;color:#262626;letter-spacing:0px;transform:scale(0.5958,1);transform-origin:left top;">Fault</div>
<div class="t" style="left:1387.7px;top:347.2px;font:bold 15.6px/1 'Liberation Sans', sans-serif;color:#262626;letter-spacing:0px;transform:scale(0.5926,1);transform-origin:left top;">Duration</div>
<div class="t" style="left:1647.8px;top:347.2px;font:bold 15.6px/1 'Liberation Sans', sans-serif;color:#262626;letter-spacing:0px;transform:scale(0.5661,1);transform-origin:left top;">Count</div>
<div style="position:absolute;left:961.8px;top:379.8px;width:39.0px;height:40.0px;background:#f2f2f2;"></div>
<div style="position:absolute;left:1003.6px;top:379.8px;width:369.8px;height:40.0px;background:#f2f2f2;"></div>
<div style="position:absolute;left:1376.3px;top:379.8px;width:257.2px;height:40.0px;background:#f2f2f2;"></div>
<div style="position:absolute;left:1636.4px;top:379.8px;width:148.8px;height:40.0px;background:#f2f2f2;"></div>
<div class="t" style="left:973.2px;top:388.6px;font:bold 15.6px/1 'Liberation Sans', sans-serif;color:#262626;letter-spacing:0px;transform:scale(0.58,1);transform-origin:left top;">1</div>
<div class="t" style="left:1014.6px;top:388.6px;font:bold 15.6px/1 'Liberation Sans', sans-serif;color:#262626;letter-spacing:0px;transform:scale(0.5898,1);transform-origin:left top;">Traction Cont supply below limit</div>
<div class="t" style="left:1387.7px;top:388.6px;font:bold 15.6px/1 'Liberation Sans', sans-serif;color:#262626;letter-spacing:0px;transform:scale(0.5725,1);transform-origin:left top;">100milliseconds</div>
<div class="t" style="left:1647.8px;top:388.6px;font:bold 15.6px/1 'Liberation Sans', sans-serif;color:#262626;letter-spacing:0px;transform:scale(0.58,1);transform-origin:left top;">2</div>
<div style="position:absolute;left:961.8px;top:423.3px;width:39.0px;height:43.9px;background:#f2f2f2;"></div>
<div style="position:absolute;left:1003.6px;top:423.3px;width:369.8px;height:43.9px;background:#f2f2f2;"></div>
<div style="position:absolute;left:1376.3px;top:423.3px;width:257.2px;height:43.9px;background:#f2f2f2;"></div>
<div style="position:absolute;left:1636.4px;top:423.3px;width:148.8px;height:43.9px;background:#f2f2f2;"></div>
<div class="t" style="left:973.2px;top:434.1px;font:bold 15.6px/1 'Liberation Sans', sans-serif;color:#262626;letter-spacing:0px;transform:scale(0.58,1);transform-origin:left top;">2</div>
<div class="t" style="left:1014.6px;top:434.1px;font:bold 15.6px/1 'Liberation Sans', sans-serif;color:#262626;letter-spacing:0px;transform:scale(0.6041,1);transform-origin:left top;">Machine powered up</div>
<div class="t" style="left:1387.7px;top:434.1px;font:bold 15.6px/1 'Liberation Sans', sans-serif;color:#262626;letter-spacing:0px;transform:scale(0.5581,1);transform-origin:left top;">15seconds</div>
<div class="t" style="left:1647.8px;top:434.1px;font:bold 15.6px/1 'Liberation Sans', sans-serif;color:#262626;letter-spacing:0px;transform:scale(0.58,1);transform-origin:left top;">1</div>
<div style="position:absolute;left:961.8px;top:471.1px;width:39.0px;height:42.8px;background:#f2f2f2;"></div>
<div style="position:absolute;left:1003.6px;top:471.1px;width:369.8px;height:42.8px;background:#f2f2f2;"></div>
<div style="position:absolute;left:1376.3px;top:471.1px;width:257.2px;height:42.8px;background:#f2f2f2;"></div>
<div style="position:absolute;left:1636.4px;top:471.1px;width:148.8px;height:42.8px;background:#f2f2f2;"></div>
<div class="t" style="left:973.2px;top:481.7px;font:bold 15.6px/1 'Liberation Sans', sans-serif;color:#262626;letter-spacing:0px;transform:scale(0.58,1);transform-origin:left top;">3</div>
<div class="t" style="left:1014.6px;top:481.7px;font:bold 15.6px/1 'Liberation Sans', sans-serif;color:#262626;letter-spacing:0px;transform:scale(0.5845,1);transform-origin:left top;">Left Drive: Mains supply under voltage</div>
<div class="t" style="left:1387.7px;top:481.7px;font:bold 15.6px/1 'Liberation Sans', sans-serif;color:#262626;letter-spacing:0px;transform:scale(0.5681,1);transform-origin:left top;">12seconds, 100milliseconds</div>
<div class="t" style="left:1647.8px;top:481.7px;font:bold 15.6px/1 'Liberation Sans', sans-serif;color:#262626;letter-spacing:0px;transform:scale(0.58,1);transform-origin:left top;">6</div>
<div style="position:absolute;left:961.8px;top:518.2px;width:39.0px;height:42.1px;background:#f2f2f2;"></div>
<div style="position:absolute;left:1003.6px;top:518.2px;width:369.8px;height:42.1px;background:#f2f2f2;"></div>
<div style="position:absolute;left:1376.3px;top:518.2px;width:257.2px;height:42.1px;background:#f2f2f2;"></div>
<div style="position:absolute;left:1636.4px;top:518.2px;width:148.8px;height:42.1px;background:#f2f2f2;"></div>
<div class="t" style="left:973.2px;top:529.8px;font:bold 15.6px/1 'Liberation Sans', sans-serif;color:#262626;letter-spacing:0px;transform:scale(0.58,1);transform-origin:left top;">4</div>
<div class="t" style="left:1014.6px;top:529.8px;font:bold 15.6px/1 'Liberation Sans', sans-serif;color:#262626;letter-spacing:0px;transform:scale(0.5704,1);transform-origin:left top;">Left Drive: Lost phase lock on mains supply</div>
<div class="t" style="left:1387.7px;top:529.8px;font:bold 15.6px/1 'Liberation Sans', sans-serif;color:#262626;letter-spacing:0px;transform:scale(0.5668,1);transform-origin:left top;">2seconds, 200milliseconds</div>
<div class="t" style="left:1647.8px;top:529.8px;font:bold 15.6px/1 'Liberation Sans', sans-serif;color:#262626;letter-spacing:0px;transform:scale(0.58,1);transform-origin:left top;">5</div>
<div style="position:absolute;left:961.8px;top:564.3px;width:39.0px;height:43.3px;background:#f2f2f2;"></div>
<div style="position:absolute;left:1003.6px;top:564.3px;width:369.8px;height:43.3px;background:#f2f2f2;"></div>
<div style="position:absolute;left:1376.3px;top:564.3px;width:257.2px;height:43.3px;background:#f2f2f2;"></div>
<div style="position:absolute;left:1636.4px;top:564.3px;width:148.8px;height:43.3px;background:#f2f2f2;"></div>
<div class="t" style="left:973.2px;top:575.5px;font:bold 15.6px/1 'Liberation Sans', sans-serif;color:#262626;letter-spacing:0px;transform:scale(0.58,1);transform-origin:left top;">5</div>
<div class="t" style="left:1014.6px;top:575.5px;font:bold 15.6px/1 'Liberation Sans', sans-serif;color:#262626;letter-spacing:0px;transform:scale(0.5826,1);transform-origin:left top;">Right Drive: Mains supply under voltage</div>
<div class="t" style="left:1387.7px;top:575.5px;font:bold 15.6px/1 'Liberation Sans', sans-serif;color:#262626;letter-spacing:0px;transform:scale(0.5725,1);transform-origin:left top;">100milliseconds</div>
<div class="t" style="left:1647.8px;top:575.5px;font:bold 15.6px/1 'Liberation Sans', sans-serif;color:#262626;letter-spacing:0px;transform:scale(0.58,1);transform-origin:left top;">2</div>
<div style="position:absolute;left:961.8px;top:611.7px;width:39.0px;height:43.3px;background:#f2f2f2;"></div>
<div style="position:absolute;left:1003.6px;top:611.7px;width:369.8px;height:43.3px;background:#f2f2f2;"></div>
<div style="position:absolute;left:1376.3px;top:611.7px;width:257.2px;height:43.3px;background:#f2f2f2;"></div>
<div style="position:absolute;left:1636.4px;top:611.7px;width:148.8px;height:43.3px;background:#f2f2f2;"></div>
<div class="t" style="left:973.2px;top:622.9px;font:bold 15.6px/1 'Liberation Sans', sans-serif;color:#262626;letter-spacing:0px;transform:scale(0.58,1);transform-origin:left top;">6</div>
<div class="t" style="left:1014.6px;top:622.9px;font:bold 15.6px/1 'Liberation Sans', sans-serif;color:#262626;letter-spacing:0px;transform:scale(0.5704,1);transform-origin:left top;">Right Drive: Lost phase lock on mains supply</div>
<div class="t" style="left:1387.7px;top:622.9px;font:bold 15.6px/1 'Liberation Sans', sans-serif;color:#262626;letter-spacing:0px;transform:scale(0.5725,1);transform-origin:left top;">250milliseconds</div>
<div class="t" style="left:1647.8px;top:622.9px;font:bold 15.6px/1 'Liberation Sans', sans-serif;color:#262626;letter-spacing:0px;transform:scale(0.58,1);transform-origin:left top;">5</div>
<div style="position:absolute;left:961.8px;top:659.0px;width:411.6px;height:43.2px;background:#f2f2f2;"></div>
<div style="position:absolute;left:1376.3px;top:659.0px;width:257.2px;height:43.2px;background:#f2f2f2;"></div>
<div style="position:absolute;left:1636.4px;top:659.0px;width:148.8px;height:43.2px;background:#f2f2f2;"></div>
<div class="t" style="left:1362.3px;top:669.4px;font:bold 15.6px/1 'Liberation Sans', sans-serif;color:#262626;letter-spacing:0px;transform:translateX(-100%) scale(0.575,1);transform-origin:right top;">Total</div>
<div class="t" style="left:1387.7px;top:669.4px;font:bold 15.6px/1 'Liberation Sans', sans-serif;color:#262626;letter-spacing:0px;transform:scale(0.5681,1);transform-origin:left top;">29seconds, 750milliseconds</div>
<div class="t" style="left:1647.8px;top:669.4px;font:bold 15.6px/1 'Liberation Sans', sans-serif;color:#262626;letter-spacing:0px;transform:scale(0.58,1);transform-origin:left top;">21</div>
<div class="t" style="left:1349.5px;top:732.2px;font:bold 25px/1 'Liberation Sans', sans-serif;color:#111;letter-spacing:0px;transform:translateX(-50%) scale(0.603,1);transform-origin:center top;">Shift activity graph</div>
<svg width="1807" height="1033"><path d="M1139.4 764 V970" stroke="#ececf2" stroke-width="1"/><path d="M1239.2 764 V970" stroke="#ececf2" stroke-width="1"/><path d="M1339.0 764 V970" stroke="#ececf2" stroke-width="1"/><path d="M1438.8 764 V970" stroke="#ececf2" stroke-width="1"/><path d="M1538.6 764 V970" stroke="#ececf2" stroke-width="1"/><path d="M1638.4 764 V970" stroke="#ececf2" stroke-width="1"/><path d="M1738.2 764 V970" stroke="#ececf2" stroke-width="1"/><rect x="1146.8" y="790" width="7.1" height="43.9" fill="#93add1"/><rect x="1198.4" y="790" width="34.1" height="43.9" fill="#93add1"/><rect x="1238.7" y="790" width="53.9" height="43.9" fill="#93add1"/><rect x="1297" y="790" width="108.7" height="43.9" fill="#93add1"/><rect x="1409.9" y="790" width="39.0" height="43.9" fill="#93add1"/><rect x="1454" y="790" width="5.4" height="43.9" fill="#93add1"/><rect x="1490.1" y="790" width="45.2" height="43.9" fill="#93add1"/><rect x="1542.4" y="790" width="74.2" height="43.9" fill="#93add1"/><rect x="1621" y="790" width="30.5" height="43.9" fill="#93add1"/><rect x="1656.6" y="790" width="9.4" height="43.9" fill="#93add1"/><rect x="1721" y="790" width="18.9" height="43.9" fill="#93add1"/><rect x="1745.7" y="790" width="18.9" height="43.9" fill="#93add1"/><rect x="1139.4" y="833.9" width="3.2" height="44.1" fill="#98ea8a"/><rect x="1148.3" y="833.9" width="6.3" height="44.1" fill="#98ea8a"/><rect x="1200.6" y="833.9" width="2.9" height="44.1" fill="#98ea8a"/><rect x="1205.8" y="833.9" width="3.1" height="44.1" fill="#98ea8a"/><rect x="1211.2" y="833.9" width="3.0" height="44.1" fill="#98ea8a"/><rect x="1216.8" y="833.9" width="2.6" height="44.1" fill="#98ea8a"/><rect x="1222.2" y="833.9" width="2.6" height="44.1" fill="#98ea8a"/><rect x="1227.4" y="833.9" width="2.7" height="44.1" fill="#98ea8a"/><rect x="1238.7" y="833.9" width="4.0" height="44.1" fill="#98ea8a"/><rect x="1245.0" y="833.9" width="2.7" height="44.1" fill="#98ea8a"/><rect x="1249.3" y="833.9" width="4.9" height="44.1" fill="#98ea8a"/><rect x="1256.6" y="833.9" width="4.7" height="44.1" fill="#98ea8a"/><rect x="1263.0" y="833.9" width="6.4" height="44.1" fill="#98ea8a"/><rect x="1270.9" y="833.9" width="5.9" height="44.1" fill="#98ea8a"/><rect x="1278.5" y="833.9" width="2.8" height="44.1" fill="#98ea8a"/><rect x="1282.8" y="833.9" width="3.5" height="44.1" fill="#98ea8a"/><rect x="1288.5" y="833.9" width="3.0" height="44.1" fill="#98ea8a"/><rect x="1297.0" y="833.9" width="5.3" height="44.1" fill="#98ea8a"/><rect x="1304.0" y="833.9" width="4.8" height="44.1" fill="#98ea8a"/><rect x="1310.3" y="833.9" width="2.5" height="44.1" fill="#98ea8a"/><rect x="1314.4" y="833.9" width="5.5" height="44.1" fill="#98ea8a"/><rect x="1321.7" y="833.9" width="3.7" height="44.1" fill="#98ea8a"/><rect x="1327.4" y="833.9" width="4.4" height="44.1" fill="#98ea8a"/><rect x="1333.5" y="833.9" width="6.0" height="44.1" fill="#98ea8a"/><rect x="1341.6" y="833.9" width="3.4" height="44.1" fill="#98ea8a"/><rect x="1346.9" y="833.9" width="4.7" height="44.1" fill="#98ea8a"/><rect x="1353.9" y="833.9" width="5.7" height="44.1" fill="#98ea8a"/><rect x="1361.3" y="833.9" width="6.9" height="44.1" fill="#98ea8a"/><rect x="1369.8" y="833.9" width="4.2" height="44.1" fill="#98ea8a"/><rect x="1376.1" y="833.9" width="2.9" height="44.1" fill="#98ea8a"/><rect x="1380.9" y="833.9" width="2.4" height="44.1" fill="#98ea8a"/><rect x="1385.4" y="833.9" width="5.9" height="44.1" fill="#98ea8a"/><rect x="1393.2" y="833.9" width="6.4" height="44.1" fill="#98ea8a"/><rect x="1401.3" y="833.9" width="4.4" height="44.1" fill="#98ea8a"/><rect x="1411.5" y="833.9" width="5.0" height="44.1" fill="#98ea8a"/><rect x="1418.2" y="833.9" width="6.2" height="44.1" fill="#98ea8a"/><rect x="1426.6" y="833.9" width="4.5" height="44.1" fill="#98ea8a"/><rect x="1432.9" y="833.9" width="2.5" height="44.1" fill="#98ea8a"/><rect x="1437.4" y="833.9" width="5.3" height="44.1" fill="#98ea8a"/><rect x="1444.9" y="833.9" width="4.0" height="44.1" fill="#98ea8a"/><rect x="1452.3" y="833.9" width="6.4" height="44.1" fill="#98ea8a"/><rect x="1461.8" y="833.9" width="1.6" height="44.1" fill="#98ea8a"/><rect x="1493.5" y="833.9" width="4.2" height="44.1" fill="#98ea8a"/><rect x="1498.8" y="833.9" width="5.3" height="44.1" fill="#98ea8a"/><rect x="1505.1" y="833.9" width="4.5" height="44.1" fill="#98ea8a"/><rect x="1511.0" y="833.9" width="5.0" height="44.1" fill="#98ea8a"/><rect x="1517.0" y="833.9" width="7.1" height="44.1" fill="#98ea8a"/><rect x="1525.6" y="833.9" width="4.6" height="44.1" fill="#98ea8a"/><rect x="1531.4" y="833.9" width="3.9" height="44.1" fill="#98ea8a"/><rect x="1542.4" y="833.9" width="10.7" height="44.1" fill="#98ea8a"/><rect x="1554.5" y="833.9" width="6.9" height="44.1" fill="#98ea8a"/><rect x="1562.5" y="833.9" width="1.0" height="44.1" fill="#98ea8a"/><rect x="1565.0" y="833.9" width="4.4" height="44.1" fill="#98ea8a"/><rect x="1571.6" y="833.9" width="2.9" height="44.1" fill="#98ea8a"/><rect x="1576.8" y="833.9" width="3.0" height="44.1" fill="#98ea8a"/><rect x="1582.5" y="833.9" width="3.7" height="44.1" fill="#98ea8a"/><rect x="1588.6" y="833.9" width="2.5" height="44.1" fill="#98ea8a"/><rect x="1593.7" y="833.9" width="2.3" height="44.1" fill="#98ea8a"/><rect x="1597.0" y="833.9" width="7.9" height="44.1" fill="#98ea8a"/><rect x="1606.1" y="833.9" width="6.5" height="44.1" fill="#98ea8a"/><rect x="1620.4" y="833.9" width="5.7" height="44.1" fill="#98ea8a"/><rect x="1627.2" y="833.9" width="6.6" height="44.1" fill="#98ea8a"/><rect x="1635.5" y="833.9" width="6.5" height="44.1" fill="#98ea8a"/><rect x="1643.8" y="833.9" width="4.6" height="44.1" fill="#98ea8a"/><rect x="1649.8" y="833.9" width="1.7" height="44.1" fill="#98ea8a"/><rect x="1655.3" y="833.9" width="2.7" height="44.1" fill="#98ea8a"/><rect x="1658.8" y="833.9" width="3.0" height="44.1" fill="#98ea8a"/><rect x="1662.8" y="833.9" width="3.4" height="44.1" fill="#98ea8a"/><rect x="1667.0" y="833.9" width="2.5" height="44.1" fill="#98ea8a"/><rect x="1670.4" y="833.9" width="2.8" height="44.1" fill="#98ea8a"/><rect x="1721.0" y="833.9" width="2.6" height="44.1" fill="#98ea8a"/><rect x="1725.3" y="833.9" width="4.0" height="44.1" fill="#98ea8a"/><rect x="1730.4" y="833.9" width="3.1" height="44.1" fill="#98ea8a"/><rect x="1734.8" y="833.9" width="3.4" height="44.1" fill="#98ea8a"/><rect x="1739.3" y="833.9" width="1.3" height="44.1" fill="#98ea8a"/><rect x="1744.4" y="833.9" width="6.3" height="44.1" fill="#98ea8a"/><rect x="1751.8" y="833.9" width="4.4" height="44.1" fill="#98ea8a"/><rect x="1757.1" y="833.9" width="5.7" height="44.1" fill="#98ea8a"/><rect x="1763.8" y="833.9" width="2.8" height="44.1" fill="#98ea8a"/><rect x="1136.8" y="878" width="44.5" height="44.5" fill="#f7b683"/><rect x="1196.4" y="878" width="37.2" height="44.5" fill="#f7b683"/><rect x="1236.3" y="878" width="468.7" height="44.5" fill="#f7b683"/><rect x="1717.2" y="878" width="57.4" height="44.5" fill="#f7b683"/><rect x="1100.7" y="878" width="1.5" height="44.5" fill="#f7b683"/><rect x="1147.9" y="878" width="1.2" height="44.5" fill="#f2a468"/><rect x="1160" y="878" width="1.2" height="44.5" fill="#f2a468"/><rect x="1174.2" y="878" width="1.2" height="44.5" fill="#f2a468"/><rect x="1279" y="878" width="1.2" height="44.5" fill="#f2a468"/><rect x="1375" y="878" width="1.2" height="44.5" fill="#f2a468"/><rect x="1418.5" y="878" width="1.2" height="44.5" fill="#f2a468"/><rect x="1527" y="878" width="1.2" height="44.5" fill="#f2a468"/><rect x="1592" y="878" width="1.2" height="44.5" fill="#f2a468"/><rect x="1669.3" y="878" width="1.2" height="44.5" fill="#f2a468"/><rect x="1683.8" y="878" width="1.2" height="44.5" fill="#f2a468"/><rect x="1741.5" y="878" width="1.2" height="44.5" fill="#f2a468"/><rect x="1166.3" y="878" width="1.1" height="44.5" fill="#fff"/><rect x="1477.4" y="878" width="1.1" height="44.5" fill="#fff"/><rect x="1493.6" y="878" width="1.1" height="44.5" fill="#fff"/><rect x="1538.1" y="878" width="1.1" height="44.5" fill="#fff"/><rect x="1690.0" y="878" width="1.1" height="44.5" fill="#fff"/><rect x="1696.7" y="878" width="1.1" height="44.5" fill="#fff"/><rect x="1726.7" y="878" width="1.1" height="44.5" fill="#fff"/><rect x="1770.1" y="878" width="1.1" height="44.5" fill="#fff"/><rect x="1136.2" y="922.5" width="45.1" height="43.5" fill="#9cc6f0"/><rect x="1196.4" y="922.5" width="37.2" height="43.5" fill="#9cc6f0"/><rect x="1236.3" y="922.5" width="468.7" height="43.5" fill="#9cc6f0"/><rect x="1717.2" y="922.5" width="57.4" height="43.5" fill="#9cc6f0"/><rect x="1100.7" y="922.5" width="3.2" height="43.5" fill="#86b6ea"/><rect x="1160" y="922.5" width="1.4" height="43.5" fill="#86b6ea"/><rect x="1174.2" y="922.5" width="1.4" height="43.5" fill="#86b6ea"/><rect x="1684" y="922.5" width="1.4" height="43.5" fill="#86b6ea"/><rect x="1741.5" y="922.5" width="1.4" height="43.5" fill="#86b6ea"/><rect x="1166.3" y="922.5" width="1.1" height="43.5" fill="#fff"/><rect x="1477.4" y="922.5" width="1.1" height="43.5" fill="#fff"/><rect x="1538.1" y="922.5" width="1.1" height="43.5" fill="#fff"/><rect x="1690.0" y="922.5" width="1.1" height="43.5" fill="#fff"/><rect x="1696.7" y="922.5" width="1.1" height="43.5" fill="#fff"/><rect x="1770.1" y="922.5" width="1.1" height="43.5" fill="#fff"/><path d="M1101 790 H1777.3" stroke="#d9b8f5" stroke-width="1"/><path d="M1101 833.9 H1777.3" stroke="#c9d0e3" stroke-width="0.9"/><path d="M1101 878 H1777.3" stroke="#c6ecc0" stroke-width="0.9"/><path d="M1101 922.5 H1777.3" stroke="#f3d5bd" stroke-width="0.9"/><path d="M1101 966 H1777.3" stroke="#dfe6f0" stroke-width="0.9"/><path d="M1101.5 790 V833.9" stroke="#b9c4dc" stroke-width="1"/><path d="M1101.5 833.9 V878" stroke="#b5e6ab" stroke-width="1"/></svg>
<div class="t" style="left:970.3px;top:767.3px;font:bold 6.6px/1 'Liberation Sans', sans-serif;color:#a020f0;letter-spacing:0.75px;transform:scale(1.27,1);transform-origin:left top;">Maintenance Mode</div>
<div class="t" style="left:970.3px;top:811.4px;font:normal 6.6px/1 'Liberation Sans', sans-serif;color:#8ea6cc;letter-spacing:1.0px;transform:scale(1.27,1);transform-origin:left top;-webkit-text-stroke:0.3px #8ea6cc;">Cutter On</div>
<div class="t" style="left:970.3px;top:855.1px;font:normal 6.6px/1 'Liberation Sans', sans-serif;color:#a4e89a;letter-spacing:1.0px;transform:scale(1.27,1);transform-origin:left top;-webkit-text-stroke:0.3px #a4e89a;">Conveyor On</div>
<div class="t" style="left:970.3px;top:898.8px;font:normal 6.6px/1 'Liberation Sans', sans-serif;color:#f5b98d;letter-spacing:1.0px;transform:scale(1.27,1);transform-origin:left top;-webkit-text-stroke:0.3px #f5b98d;">Traction On</div>
<div class="t" style="left:970.3px;top:942.8px;font:normal 6.6px/1 'Liberation Sans', sans-serif;color:#8fbdf0;letter-spacing:1.0px;transform:scale(1.27,1);transform-origin:left top;-webkit-text-stroke:0.3px #8fbdf0;">Pump On</div>
<div class="t" style="left:1140.9px;top:973.4px;font:normal 6.8px/1 'Liberation Sans', sans-serif;color:#555;letter-spacing:0.9px;transform:translateX(-50%) scale(1.27,1);transform-origin:center top;">13. Apr</div>
<div class="t" style="left:1239.2px;top:973.4px;font:normal 6.8px/1 'Liberation Sans', sans-serif;color:#555;letter-spacing:0.9px;transform:translateX(-50%) scale(1.27,1);transform-origin:center top;">01:00</div>
<div class="t" style="left:1339.0px;top:973.4px;font:normal 6.8px/1 'Liberation Sans', sans-serif;color:#555;letter-spacing:0.9px;transform:translateX(-50%) scale(1.27,1);transform-origin:center top;">02:00</div>
<div class="t" style="left:1438.8px;top:973.4px;font:normal 6.8px/1 'Liberation Sans', sans-serif;color:#555;letter-spacing:0.9px;transform:translateX(-50%) scale(1.27,1);transform-origin:center top;">03:00</div>
<div class="t" style="left:1538.6px;top:973.4px;font:normal 6.8px/1 'Liberation Sans', sans-serif;color:#555;letter-spacing:0.9px;transform:translateX(-50%) scale(1.27,1);transform-origin:center top;">04:00</div>
<div class="t" style="left:1638.4px;top:973.4px;font:normal 6.8px/1 'Liberation Sans', sans-serif;color:#555;letter-spacing:0.9px;transform:translateX(-50%) scale(1.27,1);transform-origin:center top;">05:00</div>
<div class="t" style="left:1738.2px;top:973.4px;font:normal 6.8px/1 'Liberation Sans', sans-serif;color:#555;letter-spacing:0.9px;transform:translateX(-50%) scale(1.27,1);transform-origin:center top;">06:00</div>
</body></html>
